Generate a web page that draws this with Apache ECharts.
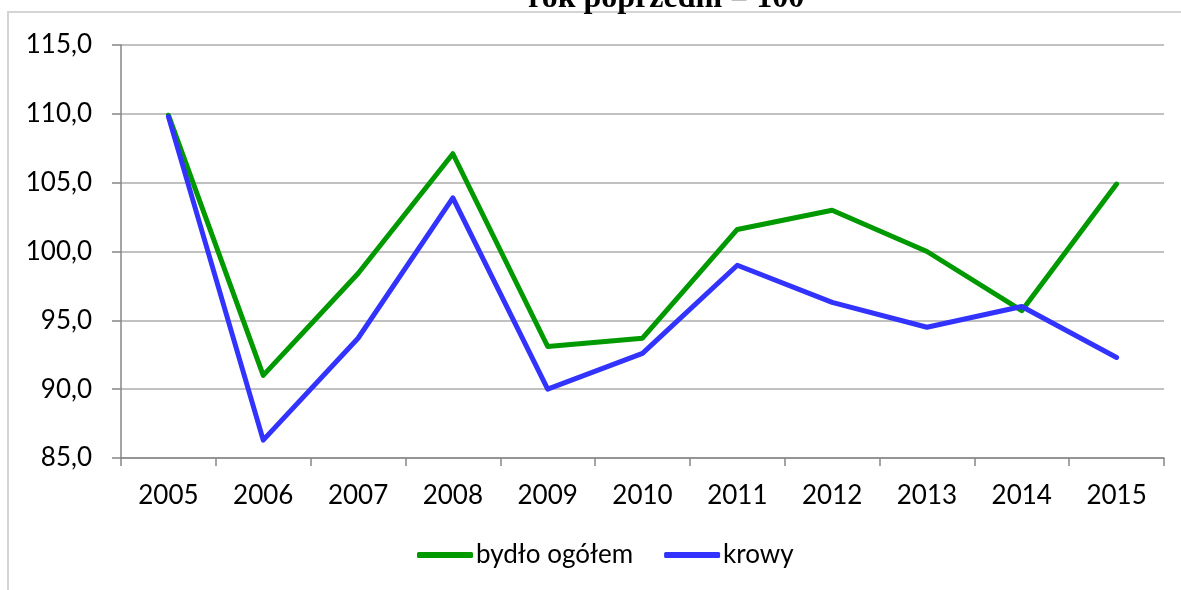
<!DOCTYPE html>
<html>
<head>
<meta charset="utf-8">
<script src="https://cdn.jsdelivr.net/npm/echarts@6/dist/echarts.min.js"></script>
<style>
  html, body { margin: 0; padding: 0; background: #fff; }
  #chart { width: 1181px; height: 590px; }
</style>
</head>
<body>
<div id="chart"></div>
<script>
// dane: rok poprzedni = 100
var years = ['2005', '2006', '2007', '2008', '2009', '2010', '2011', '2012', '2013', '2014', '2015'];
var bydloOgolem = [109.9, 91.0, 98.4, 107.1, 93.1, 93.7, 101.6, 103.0, 100.0, 95.7, 104.9];
var krowy = [109.8, 86.3, 93.7, 103.9, 90.0, 92.6, 99.0, 96.3, 94.5, 96.0, 92.3];
var seriesNames = ['bydło ogółem', 'krowy'];
var seriesColors = ['#009900', '#3333ff'];

var labelFont = 'Lato, "Open Sans", sans-serif';

var chart = echarts.init(document.getElementById('chart'));

var option = {
    animation: false,
    backgroundColor: '#fff',
    title: {
        text: 'rok poprzedni = 100',
        left: 523,
        top: -22,
        textStyle: {
            fontFamily: '"Liberation Serif", "Times New Roman", serif',
            fontWeight: 'bold',
            fontSize: 32,
            color: '#000'
        }
    },
    graphic: [{
        type: 'rect',
        z: -10,
        shape: { x: 8, y: 12, width: 1400, height: 800 },
        style: { fill: 'none', stroke: '#d4d4d4', lineWidth: 2 }
    }],
    grid: {
        left: 121,
        right: 17,
        top: 45,
        bottom: 132
    },
    legend: {
        top: 537,
        left: 412,
        itemWidth: 56,
        itemHeight: 6,
        itemGap: 31,
        icon: 'roundRect',
        textStyle: { fontFamily: labelFont, fontSize: 26, color: '#000', padding: [0, 0, 0, -2] },
        data: seriesNames
    },
    xAxis: {
        type: 'category',
        data: years,
        boundaryGap: true,
        axisLine: { lineStyle: { color: '#868686', width: 1.5 } },
        axisTick: { show: true, length: 8, alignWithLabel: false, lineStyle: { color: '#868686', width: 1.5 } },
        axisLabel: { margin: 25, fontFamily: labelFont, fontSize: 26, color: '#000' },
        splitLine: { show: false }
    },
    yAxis: {
        type: 'value',
        min: 85,
        max: 115,
        interval: 5,
        axisLine: { show: true, lineStyle: { color: '#868686', width: 1.5 } },
        axisTick: { show: true, length: 9, lineStyle: { color: '#868686', width: 1.5 } },
        axisLabel: {
            margin: 29,
            fontFamily: labelFont,
            fontSize: 26,
            color: '#000',
            formatter: function (v) { return v.toFixed(1).replace('.', ','); }
        },
        splitLine: { lineStyle: { color: '#adadad', width: 1.5 } }
    },
    series: [
        {
            name: seriesNames[0],
            type: 'line',
            data: bydloOgolem,
            symbol: 'none',
            color: seriesColors[0],
            lineStyle: { width: 5, color: seriesColors[0], cap: 'round', join: 'round' }
        },
        {
            name: seriesNames[1],
            type: 'line',
            data: krowy,
            symbol: 'none',
            color: seriesColors[1],
            lineStyle: { width: 5, color: seriesColors[1], cap: 'round', join: 'round' }
        }
    ]
};

chart.setOption(option);
</script>
</body>
</html>
